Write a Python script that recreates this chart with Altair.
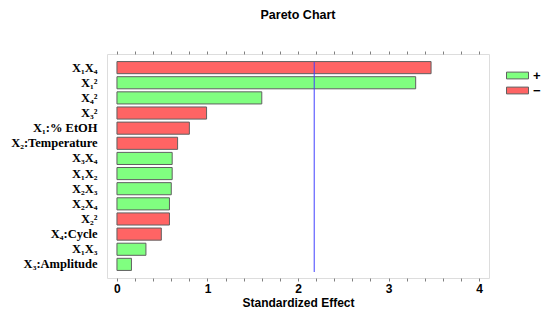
import altair as alt
import pandas as pd

terms = ["X₁X₄", "X₁²", "X₄²", "X₃²", "X₁:% EtOH", "X₂:Temperature", "X₃X₄",
         "X₁X₂", "X₂X₃", "X₂X₄", "X₂²", "X₄:Cycle", "X₁X₃", "X₃:Amplitude"]
effects = [3.47, 3.30, 1.60, 0.99, 0.80, 0.67, 0.61, 0.61, 0.60, 0.58, 0.58, 0.49, 0.32, 0.16]
signs = ["−", "+", "+", "−", "−", "−", "+", "+", "+", "+", "−", "−", "+", "+"]
critical = [2.179]
tick_values = [round(i * 0.2, 1) for i in range(21)]

df = pd.DataFrame({"term": terms, "effect": effects, "sign": signs})
crit_df = pd.DataFrame({"crit": critical})

xscale = alt.Scale(domain=[-0.11, 4.11], nice=False, zero=False)
yscale = alt.Scale(domain=terms, paddingInner=0.2, paddingOuter=0.5)

bars = alt.Chart(df).mark_bar(stroke="#606060", strokeWidth=1).encode(
    x=alt.X("effect:Q", scale=xscale,
            axis=alt.Axis(title="Standardized Effect", values=tick_values,
                          labelExpr="datum.value % 1 == 0 ? format(datum.value, 'd') : ''",
                          orient="bottom", domain=False, grid=False,
                          tickSize=3, tickColor="#808080",
                          labelFont="Liberation Sans", labelFontWeight="bold",
                          labelFontSize=12, labelColor="black", labelPadding=2,
                          titleFont="Liberation Sans", titleFontWeight="bold",
                          titleFontSize=12, titleColor="black", titlePadding=3)),
    x2=alt.X2(datum=0),
    y=alt.Y("term:N", scale=yscale, sort=terms,
            axis=alt.Axis(title=None, ticks=False, domain=False,
                          labelFont="Liberation Serif", labelFontWeight="bold",
                          labelFontSize=12.5, labelColor="black", labelPadding=10)),
    fill=alt.Fill("sign:N", scale=alt.Scale(domain=["+", "−"], range=["#80FF80", "#FF6464"]),
                  legend=alt.Legend(title=None, orient="none", legendX=404, legendY=15,
                                    symbolType="M-2.2,-0.68L2.2,-0.68L2.2,0.68L-2.2,0.68Z",
                                    symbolSize=100, symbolStrokeColor="#606060",
                                    symbolStrokeWidth=1, symbolOpacity=1,
                                    labelOffset=9,
                                    labelFont="Liberation Sans", labelFontWeight="bold",
                                    labelFontSize=13, labelColor="black", rowPadding=1)),
)

rule = alt.Chart(crit_df).mark_rule(color="#4040FF", strokeWidth=1).encode(
    x=alt.X("crit:Q", scale=xscale,
            axis=alt.Axis(title=None, orient="top", values=tick_values, labels=False,
                          domain=False, grid=False, tickSize=3, tickColor="#808080")),
    y=alt.value(8),
    y2=alt.value(218),
)

chart = alt.layer(bars, rule).resolve_axis(x="independent").resolve_scale(x="shared").properties(
    width=382, height=224,
    title=alt.TitleParams("Pareto Chart", font="Liberation Sans", fontWeight="bold",
                          fontSize=12.5, color="black", anchor="middle", offset=29),
    autosize=alt.AutoSizeParams(type="none"),
    padding={"left": 99, "top": 46, "right": 53, "bottom": 35},
).configure_view(stroke="#808080", strokeWidth=1).configure(background="white")

chart.save("out.html", embed_options={"renderer": "svg", "actions": False})
